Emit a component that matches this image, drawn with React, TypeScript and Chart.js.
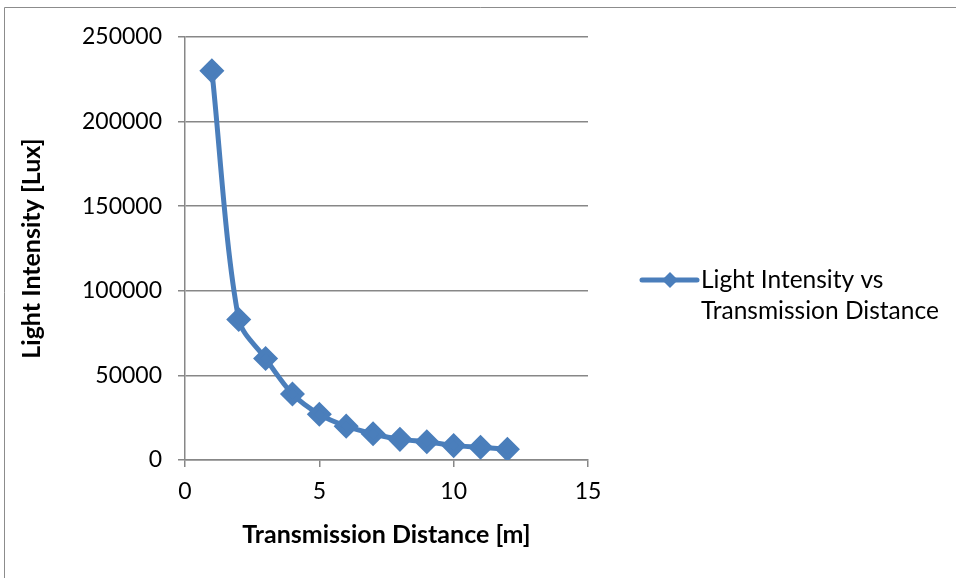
import React, { useEffect, useRef } from "react";
import { Chart, registerables } from "chart.js";

Chart.register(...registerables);

const distances = [1, 2, 3, 4, 5, 6, 7, 8, 9, 10, 11, 12];
const intensities = [230000, 83000, 60000, 39000, 27000, 20000, 15500, 12200, 10800, 8500, 7500, 6300];
const seriesLabel = ["Light Intensity vs", "Transmission Distance"];
const xTitle = "Transmission Distance [m]";
const yTitle = "Light Intensity [Lux]";

const FONT = "Lato, 'Open Sans', sans-serif";
const BLUE = "#4a7ebb";
const GRID = "#878787";

const framePlugin = {
  id: "frame",
  beforeDraw(chart: any) {
    const ctx = chart.ctx;
    ctx.save();
    ctx.fillStyle = "#ffffff";
    ctx.fillRect(0, 0, chart.width, chart.height);
    ctx.strokeStyle = "#8c8c8c";
    ctx.lineWidth = 1;
    ctx.beginPath();
    ctx.moveTo(4.5, chart.height);
    ctx.lineTo(4.5, 7.5);
    ctx.lineTo(chart.width, 7.5);
    ctx.stroke();
    ctx.restore();
  },
};

const legendPlugin = {
  id: "customLegend",
  afterDraw(chart: any) {
    const ctx = chart.ctx;
    const area = chart.chartArea;
    const x0 = area.right + 54;
    const y0 = 280;
    ctx.save();
    ctx.strokeStyle = BLUE;
    ctx.lineWidth = 5;
    ctx.lineCap = "round";
    ctx.beginPath();
    ctx.moveTo(x0, y0);
    ctx.lineTo(x0 + 55, y0);
    ctx.stroke();
    ctx.fillStyle = BLUE;
    const cx = x0 + 28;
    const r = 8;
    ctx.beginPath();
    ctx.moveTo(cx, y0 - r);
    ctx.lineTo(cx + r, y0);
    ctx.lineTo(cx, y0 + r);
    ctx.lineTo(cx - r, y0);
    ctx.closePath();
    ctx.fill();
    ctx.fillStyle = "#000000";
    ctx.font = "24.5px " + FONT;
    ctx.textBaseline = "middle";
    ctx.textAlign = "left";
    seriesLabel.forEach((t, i) => ctx.fillText(t, x0 + 59, y0 + i * 31));
    ctx.restore();
  },
};

export default function App() {
  const ref = useRef<HTMLCanvasElement>(null);
  useEffect(() => {
    const chart = new Chart(ref.current!, {
      type: "line",
      data: {
        datasets: [
          {
            label: seriesLabel.join(" "),
            data: distances.map((d, i) => ({ x: d, y: intensities[i] })),
            borderColor: BLUE,
            backgroundColor: BLUE,
            borderWidth: 5,
            pointStyle: "rectRot",
            pointRadius: 9,
            pointHoverRadius: 9,
            tension: 0.3,
          },
        ],
      },
      options: {
        animation: false,
        responsive: false,
        maintainAspectRatio: false,
        layout: { padding: { top: 37, right: 368, left: 0, bottom: 0 } },
        plugins: { legend: { display: false }, tooltip: { enabled: false } },
        scales: {
          x: {
            type: "linear",
            min: 0,
            max: 15,
            ticks: {
              stepSize: 5,
              color: "#000",
              font: { family: FONT, size: 23 },
              padding: 11,
              callback: (v: any) => String(v),
            },
            grid: { drawOnChartArea: false, drawTicks: true, tickLength: 7, color: GRID, lineWidth: 1.5 },
            border: { display: true, color: GRID, width: 1.5 },
            title: {
              display: true,
              text: xTitle,
              color: "#000",
              font: { family: FONT, size: 25, weight: "bold" },
              padding: { top: 0, bottom: 28 },
            },
            afterFit(scale: any) {
              scale.height = 118;
            },
          },
          y: {
            type: "linear",
            min: 0,
            max: 250000,
            ticks: {
              stepSize: 50000,
              color: "#000",
              font: { family: FONT, size: 23 },
              padding: 16,
              callback: (v: any) => String(v),
            },
            grid: { drawTicks: true, tickLength: 7, color: GRID, lineWidth: 1.5 },
            border: { display: true, color: GRID, width: 1.5 },
            title: {
              display: true,
              text: yTitle,
              color: "#000",
              font: { family: FONT, size: 25, weight: "bold" },
              padding: { top: 17, bottom: 0 },
            },
            afterFit(scale: any) {
              scale.width = 185;
            },
          },
        },
      },
      plugins: [framePlugin, legendPlugin],
    } as any);
    return () => chart.destroy();
  }, []);
  return (
    <div style={{ position: "fixed", left: 0, top: 0, width: 956, height: 578 }}>
      <canvas ref={ref} width={956} height={578} style={{ display: "block" }} />
    </div>
  );
}
